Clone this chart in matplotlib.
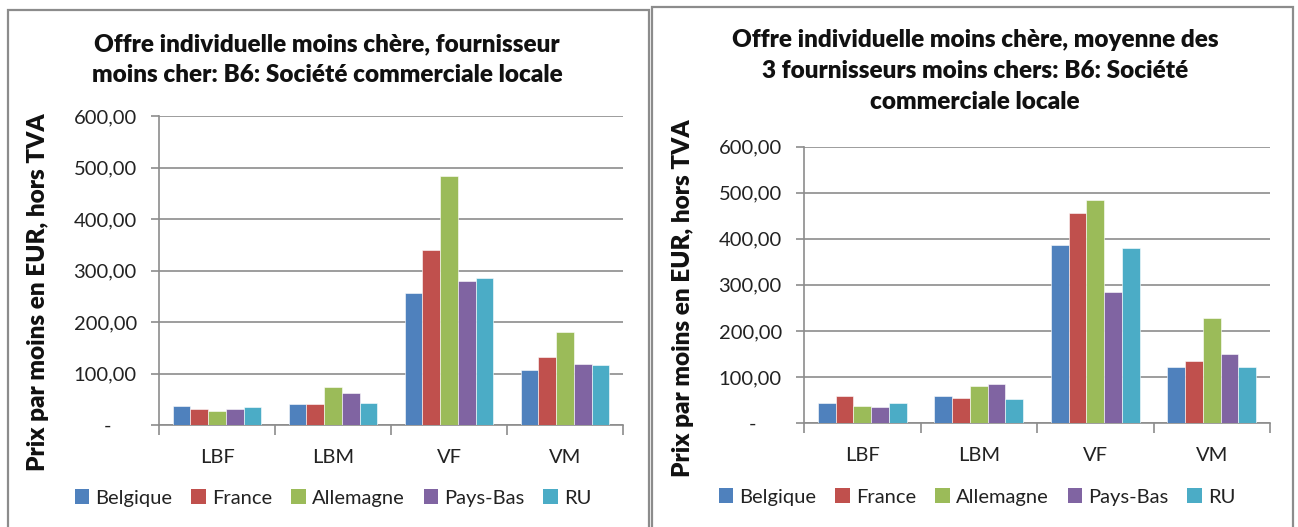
import matplotlib
matplotlib.use("Agg")
import matplotlib.pyplot as plt
from matplotlib.patches import Rectangle, Patch
import numpy as np

categories = ["LBF", "LBM", "VF", "VM"]
countries = ["Belgique", "France", "Allemagne", "Pays-Bas", "RU"]
colors = ["#4F81BD", "#C0504D", "#9BBB59", "#8064A2", "#4BACC6"]

# Left chart: cheapest supplier
left_values = {
    "Belgique":  [37.0, 41.0, 256.0, 106.0],
    "France":    [30.5, 41.0, 339.0, 133.0],
    "Allemagne": [26.5, 74.0, 484.0, 180.0],
    "Pays-Bas":  [30.5, 61.5, 280.0, 118.5],
    "RU":        [35.0, 43.5, 286.0, 116.5],
}
# Right chart: average of 3 cheapest suppliers
right_values = {
    "Belgique":  [44.0, 58.0, 386.0, 121.5],
    "France":    [58.0, 53.5, 457.0, 135.5],
    "Allemagne": [37.0, 80.5, 484.0, 228.5],
    "Pays-Bas":  [34.5, 84.5, 283.5, 149.0],
    "RU":        [44.0, 51.5, 379.5, 121.5],
}
left_title = ["Offre individuelle moins chère, fournisseur",
              "moins cher: B6: Société commerciale locale"]
right_title = ["Offre individuelle moins chère, moyenne des",
               "3 fournisseurs moins chers: B6: Société",
               "commerciale locale"]
ylabel = "Prix par moins en EUR, hors TVA"
yticks = [0, 100, 200, 300, 400, 500, 600]

plt.rcParams['font.family'] = ['Lato', 'DejaVu Sans']

W, H = 1298, 527
fig = plt.figure(figsize=(W / 100, H / 100), dpi=100)
fig.patch.set_facecolor("white")

def fx(x):
    return x / W

def fy(y):
    return 1 - y / H

# panel borders
for (x0, y0, x1) in [(8, 9.5, 648.5), (652, 7, 1293)]:
    fig.patches.append(Rectangle((fx(x0), fy(560)), fx(x1 - x0), (560 - y0) / H,
                                 transform=fig.transFigure, fill=False,
                                 edgecolor="#8C8C8C", linewidth=1.6, zorder=0))

def ytick_label(v):
    if v == 0:
        return "-     "
    return f"{v:.2f}".replace(".", ",")

def draw(ax_rect, values, title, title_x, title_y0, ylab_xy, legend_xy):
    ax = fig.add_axes(ax_rect)
    n = len(countries)
    bw = 0.153
    x = np.arange(len(categories))
    for i, c in enumerate(countries):
        ax.bar(x + (i - (n - 1) / 2) * bw, values[c], width=bw, color=colors[i],
               edgecolor="white", linewidth=0.4, zorder=3)
    ax.set_xlim(-0.5, len(categories) - 0.5)
    ax.set_ylim(0, 600)
    ax.set_yticks(yticks)
    ax.set_yticklabels([ytick_label(v) for v in yticks], fontsize=14.5, color="#222222")
    ax.yaxis.grid(True, color="#8C8C8C", linewidth=1.2, zorder=0)
    ax.set_axisbelow(True)
    ax.set_xticks(x)
    ax.set_xticklabels(categories, fontsize=14.5, color="#222222")
    ax.set_xticks(np.arange(len(categories) + 1) - 0.5, minor=True)
    ax.tick_params(axis="x", which="major", length=0, pad=17)
    ax.tick_params(axis="x", which="minor", length=7, color="#8C8C8C", width=1.2)
    ax.tick_params(axis="y", length=6, color="#8C8C8C", width=1.2, pad=10)
    for s in ["top", "right"]:
        ax.spines[s].set_visible(False)
    ax.spines["left"].set_color("#8C8C8C")
    ax.spines["bottom"].set_color("#8C8C8C")
    ax.spines["left"].set_linewidth(1.2)
    ax.spines["bottom"].set_linewidth(1.2)
    for k, line in enumerate(title):
        fig.text(fx(title_x), fy(title_y0 + 31 * k), line, ha="center", va="center",
                 fontsize=17.5, fontweight="heavy", color="#111111")
    fig.text(fx(ylab_xy[0]), fy(ylab_xy[1]), ylabel, ha="center", va="center",
             rotation=90, fontsize=17.5, fontweight="heavy", color="#111111")
    handles = [Patch(facecolor=colors[i], edgecolor="none", label=c) for i, c in enumerate(countries)]
    fig.legend(handles=handles, loc="center", bbox_to_anchor=(fx(legend_xy[0]), fy(legend_xy[1])),
               ncol=5, frameon=False, fontsize=14.5, handlelength=0.72, handleheight=0.72,
               handletextpad=0.3, columnspacing=0.95, labelcolor="#222222")
    return ax

draw([fx(159), fy(425), fx(623 - 159), (425 - 116) / H], left_values, left_title,
     327, 44, (38, 292), (333, 498))
draw([fx(804), fy(423), fx(1270 - 804), (423 - 146.7) / H], right_values, right_title,
     975, 40, (683, 298), (977, 497))

fig.savefig("out.png", dpi=100, facecolor="white")
